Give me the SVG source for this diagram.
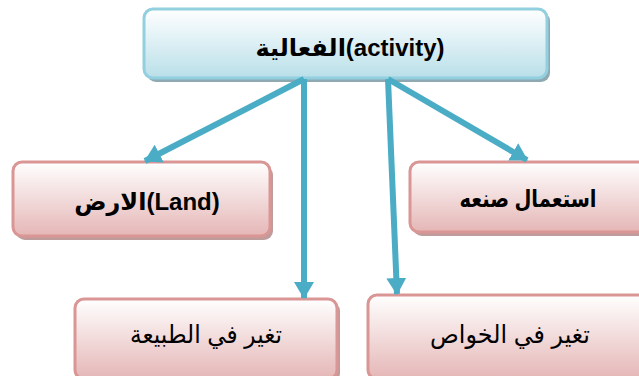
<svg xmlns="http://www.w3.org/2000/svg" width="639" height="376" viewBox="0 0 639 376">
<defs>
<linearGradient id="gBlue" x1="0" y1="0" x2="0" y2="1">
<stop offset="0" stop-color="#ffffff"/>
<stop offset="1" stop-color="#b9dfe9"/>
</linearGradient>
<linearGradient id="gPink" x1="0" y1="0" x2="0" y2="1">
<stop offset="0" stop-color="#ffffff"/>
<stop offset="1" stop-color="#e5b6b6"/>
</linearGradient>
<marker id="arr" markerUnits="userSpaceOnUse" markerWidth="17" markerHeight="20" viewBox="0 0 17 20" refX="16" refY="10" orient="auto">
<path d="M0,0 L17,10 L0,20 z" fill="#4bacc6"/>
</marker>
</defs>
<style>
.bshadow{fill:#8fa9b2;}
.pshadow{fill:#bf9c9c;}
.blue{fill:url(#gBlue);stroke:#92cfdf;stroke-width:3;}
.pink{fill:url(#gPink);stroke:#d99694;stroke-width:3;}
.t{font-family:"Liberation Sans","DejaVu Sans",Arial,sans-serif;fill:#000;text-anchor:middle;}
.b{font-weight:bold;font-size:24px;}
.r{font-size:25px;}
.con{stroke:#4bacc6;stroke-width:6;fill:none;marker-end:url(#arr);}
</style>
<g id="node-activity">
<rect class="bshadow" x="147" y="12" width="403" height="70" rx="9"/>
<rect class="blue" x="144" y="9" width="403" height="69" rx="9"/>
<text class="t b" x="350" y="56">الفعالية(activity)</text>
</g>
<g id="node-land">
<rect class="pshadow" x="16" y="166" width="257" height="74" rx="9"/>
<rect class="pink" x="13" y="162" width="257" height="74" rx="9"/>
<text class="t b" x="147" y="210">الارض(Land)</text>
</g>
<g id="node-use">
<rect class="pshadow" x="413" y="166" width="240" height="70" rx="9"/>
<rect class="pink" x="410" y="162" width="240" height="70" rx="9"/>
<text class="t b" x="528" y="207" textLength="137" lengthAdjust="spacingAndGlyphs">استعمال صنعه</text>
</g>
<g id="node-nature">
<rect class="pshadow" x="78" y="302" width="262" height="80" rx="9"/>
<rect class="pink" x="75" y="299" width="262" height="80" rx="9"/>
<text class="t r" x="206" y="343" textLength="152" lengthAdjust="spacingAndGlyphs">تغير في الطبيعة</text>
</g>
<g id="node-props">
<rect class="pshadow" x="371" y="298" width="280" height="84" rx="9"/>
<rect class="pink" x="368" y="295" width="280" height="84" rx="9"/>
<text class="t r" x="510" y="343" textLength="160" lengthAdjust="spacingAndGlyphs">تغير في الخواص</text>
</g>
<g id="connectors">
<line class="con" x1="304" y1="79" x2="145" y2="161"/>
<line class="con" x1="304" y1="79" x2="304" y2="298"/>
<line class="con" x1="388" y1="79" x2="397" y2="294"/>
<line class="con" x1="388" y1="79" x2="527" y2="160"/>
</g>
</svg>
